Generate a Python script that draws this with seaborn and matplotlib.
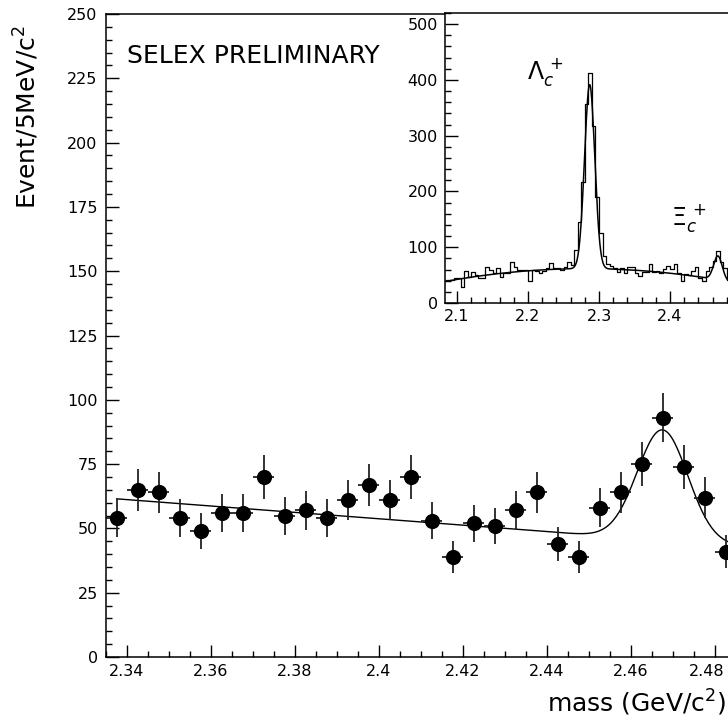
import numpy as np
import pandas as pd
import matplotlib
matplotlib.use("Agg")
import matplotlib.pyplot as plt
import matplotlib.transforms as mtransforms
import seaborn as sns
from matplotlib.ticker import MultipleLocator, FixedLocator, FixedFormatter

# ---------------- data (main plot) ----------------
mass = [2.3375, 2.3425, 2.3475, 2.3525, 2.3575, 2.3625, 2.3675, 2.3725, 2.3775, 2.3825,
        2.3875, 2.3925, 2.3975, 2.4025, 2.4075, 2.4125, 2.4175, 2.4225, 2.4275, 2.4325,
        2.4375, 2.4425, 2.4475, 2.4525, 2.4575, 2.4625, 2.4675, 2.4725, 2.4775, 2.4825]
counts = [54, 65, 64, 54, 49, 56, 56, 70, 55, 57,
          54, 61, 67, 61, 70, 53, 39, 52, 51, 57,
          64, 44, 39, 58, 64, 75, 93, 74, 62, 41]
errors = [7.3, 8.1, 8.0, 7.3, 7.0, 7.5, 7.5, 8.4, 7.4, 7.5,
          7.3, 7.8, 8.2, 7.8, 8.4, 7.3, 6.2, 7.2, 7.1, 7.5,
          8.0, 6.6, 6.2, 7.6, 8.0, 8.7, 9.6, 8.6, 7.9, 6.4]
bin_half = 0.0025

# main fit: linear background + gaussian
bg_p0, bg_slope, bg_x0 = 61.5, -124.5, 2.3375
xi_mean, xi_sigma, xi_amp = 2.4675, 0.006, 43.0

x_ticks = [2.34, 2.36, 2.38, 2.40, 2.42, 2.44, 2.46, 2.48]
x_tick_labels = ["2.34", "2.36", "2.38", "2.4", "2.42", "2.44", "2.46", "2.48"]

# ---------------- data (inset) ----------------
inset_counts = [41, 41, 44, 44, 29, 58, 46, 56, 50, 44, 44, 64, 60, 53, 62, 47, 53, 53, 74, 64,
                60, 59, 59, 40, 60, 58, 54, 58, 62, 71, 62, 62, 59, 64, 74,
                68, 95, 146, 217, 356, 413, 318, 190, 125, 85, 70, 66, 62, 56, 62] + counts
inset_lo, inset_w = 2.085, 0.005
inset_fit_bg = (61.0, 36.9, -584.0, 2.25)          # quadratic background
lc_mean, lc_sigma, lc_amp = 2.2868, 0.0072, 330.0
inset_x_ticks = [2.1, 2.2, 2.3, 2.4]
inset_x_labels = ["2.1", "2.2", "2.3", "2.4"]

# ---------------- style ----------------
sns.set_style("ticks")
plt.rcParams["font.family"] = ["DejaVu Sans"]
plt.rcParams["mathtext.fontset"] = "dejavusans"
plt.rcParams["text.color"] = "black"
plt.rcParams["xtick.color"] = "black"
plt.rcParams["ytick.color"] = "black"
plt.rcParams["xtick.labelcolor"] = "black"
plt.rcParams["ytick.labelcolor"] = "black"

fig = plt.figure(figsize=(7.28, 7.23), dpi=100)
ax = fig.add_axes([106 / 728, 66 / 723, 630 / 728, 643 / 723])

df = pd.DataFrame({"mass": mass, "counts": counts, "err": errors})

fit_x = np.linspace(mass[0], 2.4836, 400)
fit_y = bg_p0 + bg_slope * (fit_x - bg_x0) + xi_amp * np.exp(-0.5 * ((fit_x - xi_mean) / xi_sigma) ** 2)
sns.lineplot(x=fit_x, y=fit_y, ax=ax, color="black", lw=1.0, sort=False, estimator=None)

ax.errorbar(df["mass"], df["counts"], yerr=df["err"], xerr=bin_half, fmt="none",
            ecolor="#222222", elinewidth=1.3, capsize=0, zorder=2)
sns.scatterplot(data=df, x="mass", y="counts", ax=ax, color="black", s=120,
                edgecolor="black", linewidth=0, zorder=3)

ax.set_xlim(2.335, 2.485)
ax.set_ylim(0, 250)
ax.xaxis.set_major_locator(FixedLocator(x_ticks))
ax.xaxis.set_major_formatter(FixedFormatter(x_tick_labels))
ax.xaxis.set_minor_locator(MultipleLocator(0.005))
ax.yaxis.set_major_locator(MultipleLocator(25))
ax.yaxis.set_minor_locator(MultipleLocator(5))
ax.tick_params(which="major", direction="in", length=9, width=1.0, labelsize=11.5, pad=6,
               top=False, right=False)
ax.tick_params(which="minor", direction="in", length=4.5, width=1.0, top=False, right=False)
ax.tick_params(axis="x", which="major", pad=5)
ax.set_xlabel("")
ax.set_ylabel("")
for s in ["left", "bottom", "top"]:
    ax.spines[s].set_linewidth(1.1)
    ax.spines[s].set_color("black")
ax.spines["right"].set_visible(False)

# keep the last x tick label inside the canvas
last_tick = ax.xaxis.get_major_ticks()[-1]
last_tick.label1.set_transform(last_tick.label1.get_transform()
                               + mtransforms.ScaledTranslation(-0.08, 0, fig.dpi_scale_trans))

fig.text(127 / 728, 1 - 56 / 723, "SELEX PRELIMINARY", fontsize=18, ha="left", va="center")
fig.text(0.998, 0.028, r"mass (GeV/c$^2$)", fontsize=18, ha="right", va="center")
fig.text(0.037, 1 - 117 / 723, r"Event/5MeV/c$^2$", fontsize=18, ha="center", va="center",
         rotation=90)

# ---------------- inset ----------------
axi = fig.add_axes([445 / 728, 420 / 723, 296 / 728, 290 / 723])
axi.set_facecolor("white")
edges = [round(inset_lo + inset_w * k, 4) for k in range(len(inset_counts) + 1)]
hist_df = pd.DataFrame({"m": [e + inset_w / 2 for e in edges[:-1]], "n": inset_counts})
sns.histplot(data=hist_df, x="m", weights="n", bins=edges, element="step", fill=False,
             color="black", linewidth=0.9, ax=axi)

ix = np.linspace(2.083, 2.50, 800)
a0, a1, a2, u0 = inset_fit_bg
iy = (a0 + a1 * (ix - u0) + a2 * (ix - u0) ** 2
      + lc_amp * np.exp(-0.5 * ((ix - lc_mean) / lc_sigma) ** 2)
      + xi_amp * np.exp(-0.5 * ((ix - xi_mean) / xi_sigma) ** 2))
sns.lineplot(x=ix, y=iy, ax=axi, color="black", lw=1.1, sort=False, estimator=None)

axi.set_xlim(2.083, 2.50)
axi.set_ylim(0, 520)
axi.xaxis.set_major_locator(FixedLocator(inset_x_ticks))
axi.xaxis.set_major_formatter(FixedFormatter(inset_x_labels))
axi.xaxis.set_minor_locator(MultipleLocator(0.02))
axi.yaxis.set_major_locator(MultipleLocator(100))
axi.yaxis.set_minor_locator(MultipleLocator(20))
axi.tick_params(which="major", direction="in", length=9, width=1.0, labelsize=11.5, pad=5,
                top=False, right=False)
axi.tick_params(which="minor", direction="in", length=4.5, width=1.0, top=False, right=False)
axi.tick_params(axis="x", which="major", pad=4)
axi.set_xlabel("")
axi.set_ylabel("")
for s in ["left", "bottom", "top"]:
    axi.spines[s].set_linewidth(1.1)
    axi.spines[s].set_color("black")
axi.spines["right"].set_visible(False)

fig.text(527 / 728, 1 - 72 / 723, r"$\Lambda_{c}^{\,+}$", fontsize=17, ha="left", va="center")
fig.text(671 / 728, 1 - 218 / 723, r"$\Xi_{c}^{\,+}$", fontsize=17, ha="left", va="center")

fig.savefig("out.png", dpi=100)
